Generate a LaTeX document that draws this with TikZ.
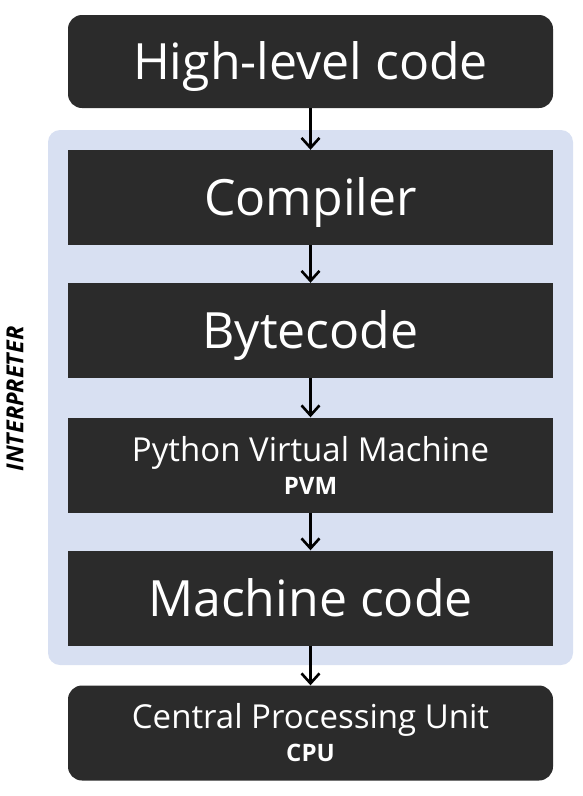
\documentclass[tikz,border=0pt]{standalone}
\usepackage{fontspec}
\setmainfont{Open Sans}
\usetikzlibrary{arrows.meta}
\definecolor{boxdark}{RGB}{43,43,43}
\definecolor{panelblue}{RGB}{216,224,242}
\tikzset{
  stagebox/.style={fill=boxdark, text=white, minimum width=485pt, minimum height=95pt, inner sep=0pt, align=center},
  flowarrow/.style={-{Straight Barb[length=10pt,width=18pt]}, line width=2.6pt},
  bigtext/.style={font=\fontsize{50}{56}\selectfont, text height=36pt, text depth=0pt},
  twoline/.style={font=\fontsize{33}{33}\selectfont},
}
\newcommand{\shortname}[1]{{\fontsize{24}{33}\selectfont\bfseries #1}}
\begin{document}
\begin{tikzpicture}[x=1pt, y=-1pt]
  \useasboundingbox (0,0) rectangle (583,796);
  % interpreter panel behind the middle stages
  \fill[panelblue, rounded corners=12pt] (48,130) rectangle (573,665);
  \node[rotate=90, font=\fontsize{23.5}{26}\selectfont\bfseries\itshape] (interp) at (15,399) {INTERPRETER};
  % stages, top to bottom
  \node[stagebox, rounded corners=14pt, minimum height=93pt, bigtext] (src) at (310.5,61.5) {High-level code};
  \node[stagebox, bigtext] (comp) at (310.5,197.5) {Compiler};
  \node[stagebox, bigtext] (byte) at (310.5,330.5) {Bytecode};
  \node[stagebox, twoline, text depth=0pt] (pvm) at (310.5,465) {Python Virtual Machine\\\shortname{PVM}};
  \node[stagebox, bigtext] (mach) at (310.5,598) {Machine code};
  \node[stagebox, rounded corners=14pt, twoline] (cpu) at (310.5,733) {Central Processing Unit\\\shortname{CPU}};
  % arrows between stages
  \foreach \a/\b in {src/comp, comp/byte, byte/pvm, pvm/mach, mach/cpu}
    \draw[flowarrow] (\a) -- (\b);
\end{tikzpicture}
\end{document}
